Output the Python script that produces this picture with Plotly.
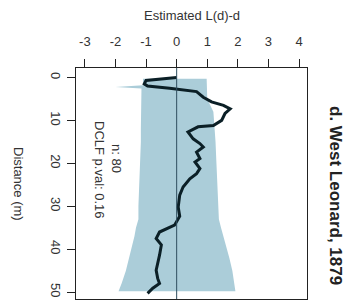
import plotly.graph_objects as go

# Observed L(d)-d curve
line_d = [0, 0.7, 1.5, 2.0, 2.5, 2.7, 3.3, 4.6, 5.7, 6.5, 7.3, 8.4, 10, 11.2, 11.5, 12.7,
          14.3, 15.4, 16.2, 17.4, 18.9, 19.7, 21.2, 22.4, 23.6, 25.5, 27.4, 30.2, 32.3,
          34.4, 35.2, 36.0, 37.5, 39.0, 41.4, 43.0, 44.9, 46.8, 48.0, 49.1, 50.3]
line_v = [0, -1.0, -1.06, -0.95, -0.23, 0.0, 0.65, 0.87, 1.14, 1.53, 1.75, 1.58, 1.47, 1.2,
          0.7, 0.37, 0.54, 0.76, 0.87, 0.65, 0.76, 0.6, 0.76, 0.65, 0.43, 0.21, 0.1, 0.05,
          0.1, -0.07, -0.34, -0.56, -0.67, -0.5, -0.56, -0.62, -0.67, -0.62, -0.56, -0.78, -0.95]

# Simulation envelope
band_d = [0.3, 1.8, 2.2, 2.6, 5, 8, 12, 15, 20, 25, 30, 33, 35, 37, 39, 42, 45, 48, 49.8]
band_lo = [-1.1, -1.1, -2.0, -1.15, -1.17, -1.17, -1.17, -1.17, -1.2, -1.22, -1.25, -1.25,
           -1.33, -1.38, -1.44, -1.55, -1.66, -1.8, -1.9]
band_hi = [0.98, 0.98, 0.98, 0.98, 1.0, 1.2, 1.25, 1.27, 1.3, 1.33, 1.36, 1.38, 1.45, 1.53,
           1.62, 1.72, 1.82, 1.88, 1.92]

x_ticks = [-3, -2, -1, 0, 1, 2, 3, 4]
x_tick_text = ["-3", "-2", "-1", "0", "1", "2", "3", "4"]
y_ticks = [0, 10, 20, 30, 40, 50]

FONT = "Liberation Sans, Arial, sans-serif"
TXT = "#333333"

# page body has an 8px margin: figure coordinates = window - 8
W, H = 353, 297
L, T = 68, 60
PW, PH = 231, 231


def px(x):  # window x -> paper
    return (x - 8 - L) / PW


def py(y):  # window y -> paper
    return (T + PH - (y - 8)) / PH


fig = go.Figure()
fig.add_trace(go.Scatter(
    x=band_hi + band_lo[::-1], y=band_d + band_d[::-1],
    fill="toself", fillcolor="#abcdd9", line=dict(width=0), mode="lines",
    hoverinfo="skip", showlegend=False))
fig.add_trace(go.Scatter(
    x=line_v, y=line_d, mode="lines",
    line=dict(color="#0b1f26", width=3), showlegend=False))

fig.add_vline(x=0, line=dict(color="#2f4f5f", width=1), layer="above")

fig.update_layout(
    width=W, height=H,
    margin=dict(l=L, r=W - L - PW, t=T, b=H - T - PH),
    paper_bgcolor="white", plot_bgcolor="white",
    font=dict(family=FONT, size=13, color=TXT),
    xaxis=dict(side="top", range=[-3.29, 4.26], tickvals=x_ticks, ticktext=x_tick_text,
               ticks="outside", ticklen=8, tickcolor="#222", tickwidth=1,
               ticklabelstandoff=8, automargin=False,
               showline=True, linecolor="#222", linewidth=1, mirror=True,
               showgrid=False, zeroline=False, tickfont=dict(size=13, color=TXT)),
    yaxis=dict(range=[51.6, -2.2], tickvals=y_ticks, tickangle=90, automargin=False,
               ticks="outside", ticklen=8, tickcolor="#222", tickwidth=1,
               showline=True, linecolor="#222", linewidth=1, mirror=True,
               showgrid=False, zeroline=False, tickfont=dict(size=13, color=TXT)),
    annotations=[
        dict(text="Estimated L(d)-d", xref="paper", yref="paper", x=px(192), y=py(15),
             showarrow=False, font=dict(size=13, color=TXT), xanchor="center", yanchor="middle"),
        dict(text="Distance (m)", xref="paper", yref="paper", x=px(19), y=py(184),
             textangle=90, showarrow=False, font=dict(size=13, color=TXT),
             xanchor="center", yanchor="middle"),
        dict(text="n: 80", xref="paper", yref="paper", x=px(117), y=py(158),
             textangle=90, showarrow=False, font=dict(size=13, color=TXT),
             xanchor="center", yanchor="middle"),
        dict(text="DCLF p.val: 0.16", xref="paper", yref="paper", x=px(100),
             y=py(170), textangle=90, showarrow=False,
             font=dict(size=13, color=TXT), xanchor="center", yanchor="middle"),
        dict(text="<b>d. West Leonard, 1879</b>", xref="paper", yref="paper",
             x=px(336), y=py(195), textangle=90, showarrow=False,
             font=dict(size=17, color="#222"), xanchor="center", yanchor="middle"),
    ],
)

fig.write_html("out.html")
